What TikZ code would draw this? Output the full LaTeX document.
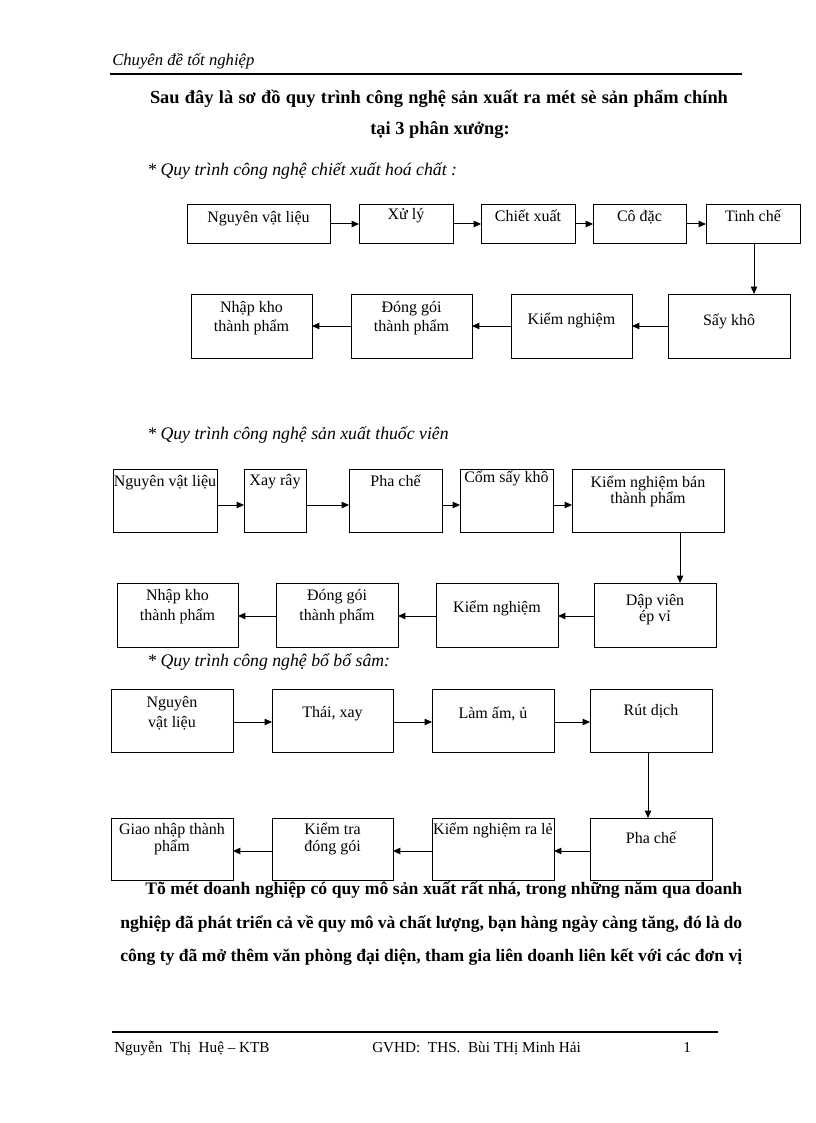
\documentclass[tikz,border=0pt]{standalone}
\usepackage{fontspec}
\setmainfont{Liberation Serif}
\usetikzlibrary{arrows.meta}
\tikzset{
  box/.style={draw=black, line width=0.75pt, rectangle, inner sep=0pt, outer sep=0pt},
  lbl/.style={anchor=mid, inner sep=0pt, font=\fontsize{12}{14}\selectfont},
  arr/.style={draw=black, line width=0.75pt, -{Triangle[length=5.5pt,width=4.8pt]}},
  head/.style={anchor=mid west, inner sep=0pt, font=\fontsize{13.3}{15}\selectfont\itshape},
  bold/.style={inner sep=0pt, font=\fontsize{13.2}{15}\selectfont\bfseries},
  titlef/.style={inner sep=0pt, font=\fontsize{13.8}{16}\selectfont\bfseries},
  foot/.style={anchor=mid west, inner sep=0pt, font=\fontsize{11.4}{14}\selectfont},
  rule/.style={draw=black, line width=1.5pt}
}
\newcommand\bx[5]{\node[box, minimum width={(#4-#2)*0.75pt}, minimum height={(#5-#3)*0.75pt}] (#1) at ({(#2+#4)/2},{(#3+#5)/2}) {};}
\newcommand\tx[4]{\node[lbl] (#1) at (#2,#3) {#4};}
\begin{document}
\begin{tikzpicture}[x=0.75pt,y=-0.75pt]
\useasboundingbox (0,0) rectangle (816,1123);
\fill[white] (0,0) rectangle (816,1123);

% header
\node[anchor=mid west, inner sep=0pt, font=\fontsize{12.5}{14}\selectfont\itshape] (hdr) at (112,62) {Chuyên đề tốt nghiệp};
\coordinate (hl1) at (110,74); \coordinate (hl2) at (742,74);
\draw[rule] (hl1) -- (hl2);

% title
\node[titlef, anchor=mid] (t1) at (439,100) {\makebox[433.5pt][s]{Sau đây là sơ đồ quy trình công nghệ sản xuất ra mét sè sản phẩm chính}};
\node[titlef, anchor=mid] (t2) at (440,131) {tại 3 phân xưởng:};

% ---------- section 1 ----------
\node[head] (h1) at (147,172) {* Quy trình công nghệ chiết xuất hoá chất :};
\bx{a1}{187}{205}{330}{243} \tx{a1t}{258.5}{219}{Nguyên vật liệu}
\bx{a2}{359}{205}{453}{243} \tx{a2t}{406}{216}{Xử lý}
\bx{a3}{481}{205}{575}{243} \tx{a3t}{528}{218}{Chiết xuất}
\bx{a4}{593}{205}{686}{243} \tx{a4t}{639.5}{218}{Cô đặc}
\bx{a5}{706}{205}{800}{243} \tx{a5t}{753}{218}{Tinh chế}
\bx{b1}{191}{294}{312}{358} \tx{b1t}{251.5}{309}{Nhập kho} \tx{b1u}{251.5}{328}{thành phẩm}
\bx{b2}{351}{294}{472}{358} \tx{b2t}{411.5}{309}{Đóng gói} \tx{b2u}{411.5}{328}{thành phẩm}
\bx{b3}{511}{294}{632}{358} \tx{b3t}{571.5}{321}{Kiểm nghiệm}
\bx{b4}{668}{294}{790}{358} \tx{b4t}{729}{322}{Sấy khô}
\draw[arr] (a1.east) -- (a2.west);
\draw[arr] (a2.east) -- (a3.west);
\draw[arr] (a3.east) -- (a4.west);
\draw[arr] (a4.east) -- (a5.west);
\draw[arr] (a5.south -| 754,0) -- (b4.north -| 754,0);
\draw[arr] (b4.west) -- (b3.east);
\draw[arr] (b3.west) -- (b2.east);
\draw[arr] (b2.west) -- (b1.east);

% ---------- section 2 ----------
\node[head] (h2) at (147,436) {* Quy trình công nghệ sản xuất thuốc viên};
\bx{c1}{113}{469}{217}{532} \tx{c1t}{165}{483}{Nguyên vật liệu}
\bx{c2}{244}{469}{306}{532} \tx{c2t}{275}{482}{Xay rây}
\bx{c3}{349}{469}{442}{532} \tx{c3t}{395.5}{483}{Pha chế}
\bx{c4}{460}{469}{553}{532} \tx{c4t}{506.5}{479}{Cốm sấy khô}
\bx{c5}{572}{469}{724}{532} \tx{c5t}{648}{484}{Kiểm nghiệm bán} \tx{c5u}{648}{500}{thành phẩm}
\bx{d1}{117}{583}{238}{647} \tx{d1t}{177.5}{597}{Nhập kho} \tx{d1u}{177.5}{617}{thành phẩm}
\bx{d2}{276}{583}{398}{647} \tx{d2t}{337}{597}{Đóng gói} \tx{d2u}{337}{617}{thành phẩm}
\bx{d3}{436}{583}{558}{647} \tx{d3t}{497}{609}{Kiểm nghiệm}
\bx{d4}{594}{583}{716}{647} \tx{d4t}{655}{602}{Dập viên} \tx{d4u}{655}{618}{ép vỉ}
\draw[arr] (c1.east |- 0,505) -- (c2.west |- 0,505);
\draw[arr] (c2.east |- 0,505) -- (c3.west |- 0,505);
\draw[arr] (c3.east |- 0,505) -- (c4.west |- 0,505);
\draw[arr] (c4.east |- 0,505) -- (c5.west |- 0,505);
\draw[arr] (c5.south -| 680,0) -- (d4.north -| 680,0);
\draw[arr] (d4.west |- 0,616) -- (d3.east |- 0,616);
\draw[arr] (d3.west |- 0,616) -- (d2.east |- 0,616);
\draw[arr] (d2.west |- 0,616) -- (d1.east |- 0,616);

% ---------- section 3 ----------
\node[head] (h3) at (147,663) {* Quy trình công nghệ bổ bổ sâm:};
\bx{e1}{111}{689}{233}{752} \tx{e1t}{172}{704}{Nguyên} \tx{e1u}{172}{724}{vật liệu}
\bx{e2}{272}{689}{393}{752} \tx{e2t}{332.5}{714}{Thái, xay}
\bx{e3}{432}{689}{554}{752} \tx{e3t}{493}{715}{Làm ấm, ủ}
\bx{e4}{590}{689}{712}{752} \tx{e4t}{651}{712}{Rút dịch}
\bx{f1}{111}{818}{233}{880} \tx{f1t}{172}{831}{Giao nhập thành} \tx{f1u}{172}{848}{phẩm}
\bx{f2}{272}{818}{393}{880} \tx{f2t}{332.5}{831}{Kiểm tra} \tx{f2u}{332.5}{848}{đóng gói}
\bx{f3}{432}{818}{554}{880} \tx{f3t}{493}{831}{Kiểm nghiệm ra lẻ}
\bx{f4}{590}{818}{712}{880} \tx{f4t}{651}{840}{Pha chế}
\draw[arr] (e1.east |- 0,722) -- (e2.west |- 0,722);
\draw[arr] (e2.east |- 0,722) -- (e3.west |- 0,722);
\draw[arr] (e3.east |- 0,722) -- (e4.west |- 0,722);
\draw[arr] (e4.south -| 648,0) -- (f4.north -| 648,0);
\draw[arr] (f4.west |- 0,851) -- (f3.east |- 0,851);
\draw[arr] (f3.west |- 0,851) -- (f2.east |- 0,851);
\draw[arr] (f2.west |- 0,851) -- (f1.east |- 0,851);

% ---------- paragraph ----------
\node[bold, anchor=mid west] (p1) at (145,891) {\makebox[447.75pt][s]{Tõ mét doanh nghiệp có quy mô sản xuất rất nhá, trong những năm qua doanh}};
\node[bold, anchor=mid west] (p2) at (120,925) {\makebox[466.5pt][s]{nghiệp đã phát triển cả về quy mô và chất lượng, bạn hàng ngày càng tăng, đó là do}};
\node[bold, anchor=mid west] (p3) at (120,958) {\makebox[466.5pt][s]{công ty đã mở thêm văn phòng đại diện, tham gia liên doanh liên kết với các đơn vị}};

% ---------- footer ----------
\coordinate (fl1) at (112,1032); \coordinate (fl2) at (718,1032);
\draw[rule] (fl1) -- (fl2);
\node[foot] (ft1) at (114,1049) {Nguyễn\ \ Thị\ \ Huệ – KTB};
\node[foot] (ft2) at (372,1049) {GVHD:\ \ THS.\ \ Bùi THị Minh Hải};
\node[foot] (ft3) at (683,1049) {1};
\end{tikzpicture}
\end{document}
